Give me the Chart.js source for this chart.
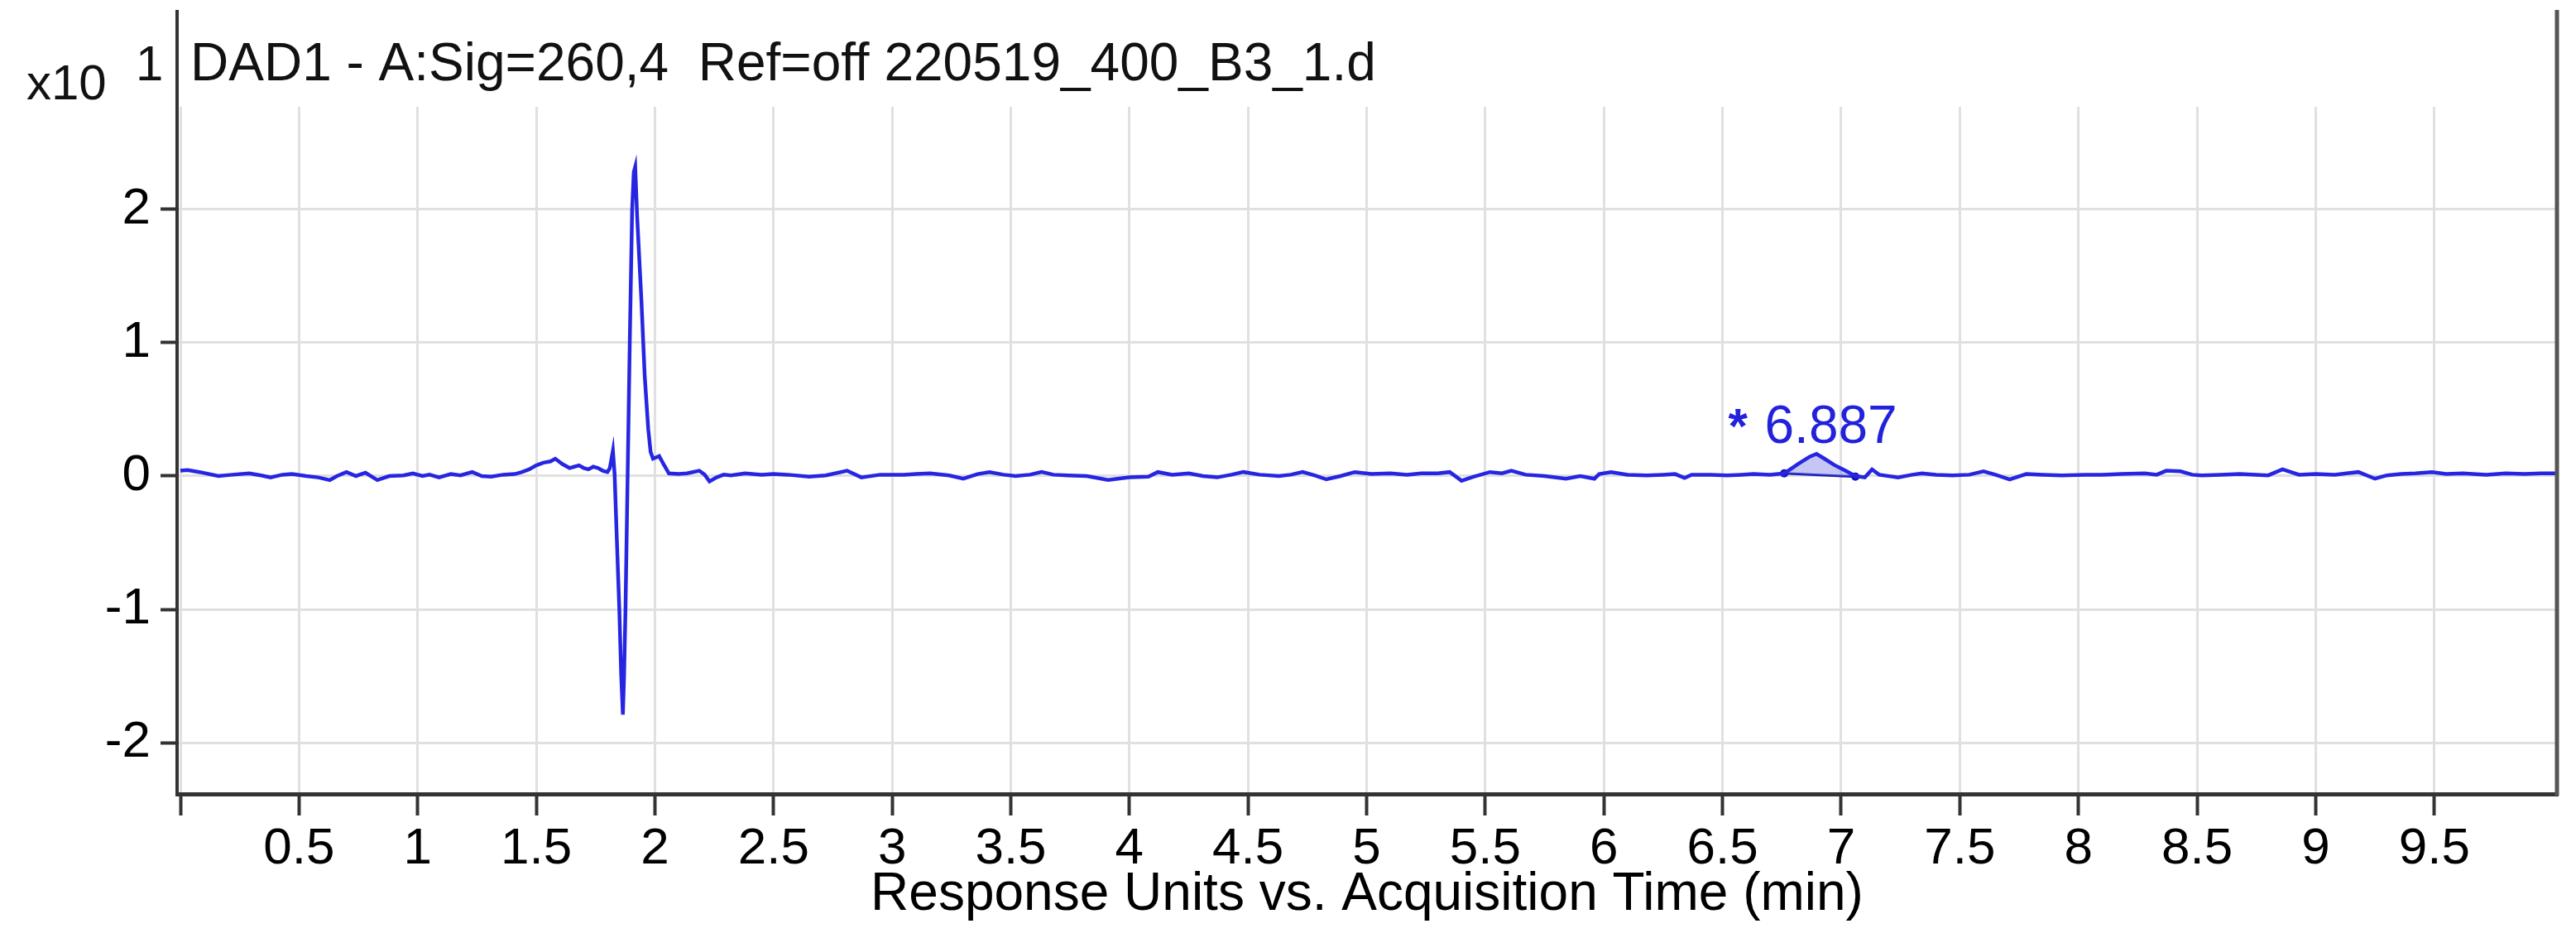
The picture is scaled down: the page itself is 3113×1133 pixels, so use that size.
<!DOCTYPE html>
<html>
<head>
<meta charset="utf-8">
<script src="https://cdn.jsdelivr.net/npm/chart.js@4.4.1/dist/chart.umd.min.js"></script>
<style>
  html, body { margin: 0; padding: 0; background: #fff; overflow: hidden; }
  #wrap { width: 3113px; height: 1133px; position: relative; }
</style>
</head>
<body>
<div id="wrap"><canvas id="chromatogram"></canvas></div>
<script>
// retention time (min) and response (x10^1)
const timeMin = [
  0.00, 0.03, 0.08, 0.16, 0.22, 0.29, 0.34, 0.38, 0.43, 0.47, 0.53, 0.58, 0.63, 0.66, 0.70, 0.74,
  0.78, 0.83, 0.88, 0.94, 0.98, 1.02, 1.05, 1.09, 1.14, 1.18, 1.23, 1.27, 1.31, 1.36, 1.41, 1.44,
  1.47, 1.50, 1.53, 1.56, 1.58, 1.61, 1.64, 1.66, 1.68, 1.70, 1.72, 1.74, 1.76, 1.78, 1.80, 1.81,
  1.823, 1.830, 1.840, 1.850, 1.858, 1.865, 1.870, 1.876, 1.885, 1.894, 1.904, 1.911, 1.917, 1.925,
  1.943, 1.957, 1.972, 1.982, 1.992, 2.005, 2.018, 2.036, 2.059, 2.10, 2.135, 2.187, 2.21, 2.23,
  2.26, 2.29, 2.32, 2.38, 2.45, 2.50, 2.56, 2.65, 2.72, 2.81, 2.87, 2.95, 3.05, 3.10, 3.16, 3.24,
  3.30, 3.36, 3.41, 3.47, 3.52, 3.58, 3.63, 3.68, 3.74, 3.82, 3.91, 4.00, 4.08, 4.12, 4.18, 4.25,
  4.31, 4.37, 4.43, 4.48, 4.55, 4.63, 4.68, 4.73, 4.78, 4.83, 4.89, 4.95, 5.02, 5.10, 5.17, 5.23,
  5.30, 5.35, 5.40, 5.45, 5.52, 5.57, 5.61, 5.67, 5.75, 5.84, 5.90, 5.96, 5.98, 6.03, 6.10, 6.18,
  6.25, 6.30, 6.34, 6.37, 6.45, 6.52, 6.58, 6.63, 6.70, 6.76, 6.82, 6.867, 6.896, 6.925, 6.971, 7.018,
  7.06, 7.10, 7.13, 7.16, 7.24, 7.30, 7.34, 7.40, 7.47, 7.54, 7.60, 7.65, 7.71, 7.78, 7.85, 7.93,
  8.03, 8.10, 8.18, 8.28, 8.33, 8.37, 8.43, 8.48, 8.52, 8.60, 8.68, 8.75, 8.80, 8.86, 8.93, 9.00,
  9.08, 9.13, 9.18, 9.25, 9.30, 9.36, 9.42, 9.49, 9.55, 9.62, 9.72, 9.80, 9.88, 9.95, 10.01
];
const response = [
  0.04, 0.045, 0.03, 0.00, 0.01, 0.02, 0.005, -0.01, 0.01, 0.015, 0.00, -0.01, -0.03, 0.00, 0.03, 0.00,
  0.025, -0.03, 0.00, 0.005, 0.02, 0.00, 0.01, -0.01, 0.015, 0.005, 0.03, 0.00, -0.005, 0.01, 0.015, 0.03,
  0.05, 0.08, 0.10, 0.11, 0.13, 0.09, 0.06, 0.07, 0.08, 0.06, 0.05, 0.07, 0.06, 0.04, 0.03, 0.06,
  0.19, 0.02, -0.5, -1.0, -1.5, -1.79, -1.5, -1.0, 0.0, 1.0, 2.0, 2.28, 2.32, 1.95,
  1.32, 0.75, 0.35, 0.18, 0.13, 0.14, 0.15, 0.09, 0.02, 0.015, 0.02, 0.04, 0.01, -0.04,
  -0.01, 0.01, 0.005, 0.02, 0.01, 0.015, 0.01, -0.005, 0.005, 0.04, -0.01, 0.01, 0.01, 0.015, 0.02, 0.005,
  -0.02, 0.015, 0.03, 0.01, 0.00, 0.01, 0.03, 0.01, 0.005, 0.00, -0.03, -0.01, -0.005, 0.03, 0.01, 0.02,
  0.00, -0.01, 0.01, 0.03, 0.01, 0.00, 0.01, 0.03, 0.005, -0.025, 0.00, 0.03, 0.015, 0.02, 0.01, 0.02,
  0.02, 0.03, -0.035, -0.005, 0.03, 0.02, 0.04, 0.01, 0.00, -0.02, 0.00, -0.02, 0.015, 0.03, 0.01, 0.005,
  0.01, 0.015, -0.015, 0.01, 0.01, 0.005, 0.01, 0.015, 0.01, 0.02, 0.093, 0.145, 0.166, 0.135, 0.083, 0.04,
  0.00, -0.01, 0.05, 0.01, -0.01, 0.01, 0.02, 0.01, 0.005, 0.01, 0.035, 0.01, -0.025, 0.015, 0.01, 0.005,
  0.01, 0.01, 0.015, 0.02, 0.01, 0.04, 0.035, 0.01, 0.005, 0.01, 0.015, 0.01, 0.005, 0.05, 0.01, 0.015,
  0.01, 0.02, 0.03, -0.02, 0.005, 0.015, 0.02, 0.03, 0.015, 0.02, 0.01, 0.02, 0.015, 0.02, 0.02
];

// integrated peak: start/end of the drawn baseline and the labelled apex
const peakBaseTime = [6.76, 7.06];
const peakBaseValue = [0.02, -0.005];
const peakTime = 6.887;
const peakApex = 0.166;
const peakLabel = '6.887';

const xTicks = [0, 0.5, 1, 1.5, 2, 2.5, 3, 3.5, 4, 4.5, 5, 5.5, 6, 6.5, 7, 7.5, 8, 8.5, 9, 9.5];
const xTickLabels = ['', '0.5', '1', '1.5', '2', '2.5', '3', '3.5', '4', '4.5', '5', '5.5', '6', '6.5', '7', '7.5', '8', '8.5', '9', '9.5'];
const yTicks = [-2, -1, 0, 1, 2];
const yTickLabels = ['-2', '-1', '0', '1', '2'];

const titleText = 'DAD1 - A:Sig=260,4  Ref=off 220519_400_B3_1.d';
const xTitle = 'Response Units vs. Acquisition Time (min)';

const FONT = "'Liberation Sans', Arial, Helvetica, sans-serif";
const LINE = '#2626e2';

const trace = timeMin.map((t, i) => ({ x: t, y: response[i] }));
const peakArea = trace.filter(p => p.x >= peakBaseTime[0] && p.x <= peakBaseTime[1]);
const peakBase = peakBaseTime.map((t, i) => ({ x: t, y: peakBaseValue[i] }));

const decorations = {
  id: 'decorations',
  afterDraw(chart) {
    const ctx = chart.ctx;
    const area = chart.chartArea;
    const xs = chart.scales.x;
    const ys = chart.scales.y;
    const frameTop = 12;
    ctx.save();
    // y axis continues up past the title, frame on the right
    ctx.strokeStyle = '#333';
    ctx.lineWidth = 4;
    ctx.beginPath();
    ctx.moveTo(area.left, area.top + 2);
    ctx.lineTo(area.left, frameTop);
    ctx.stroke();
    ctx.strokeStyle = '#555';
    ctx.lineWidth = 5;
    ctx.beginPath();
    ctx.moveTo(area.right, frameTop);
    ctx.lineTo(area.right, area.bottom + 2);
    ctx.stroke();

    ctx.fillStyle = '#111';
    ctx.textBaseline = 'alphabetic';
    ctx.textAlign = 'left';
    ctx.font = '60px ' + FONT;
    ctx.fillText('x10', 32, 120);
    ctx.fillText('1', 164, 97);

    ctx.font = '64px ' + FONT;
    ctx.fillText(titleText, area.left + 16, 97);

    // peak retention time label
    const px = xs.getPixelForValue(peakTime);
    const py = ys.getPixelForValue(peakApex);
    ctx.fillStyle = '#2222dc';
    ctx.font = '64px ' + FONT;
    const w = ctx.measureText(peakLabel).width;
    const starW = 40;
    const left = px - (w + starW) / 2;
    ctx.fillText(peakLabel, left + starW, py - 13);
    ctx.font = 'bold 60px ' + FONT;
    ctx.fillText('*', left - 4, py - 13);
    ctx.restore();
  }
};

new Chart(document.getElementById('chromatogram'), {
  type: 'line',
  data: {
    datasets: [
      {
        data: trace,
        borderColor: LINE,
        borderWidth: 4.5,
        pointRadius: 0,
        tension: 0,
        fill: false
      },
      {
        data: peakArea,
        borderWidth: 0,
        pointRadius: 0,
        backgroundColor: 'rgba(120, 120, 228, 0.42)',
        fill: '+1'
      },
      {
        data: peakBase,
        borderColor: '#1616b8',
        borderWidth: 3,
        pointRadius: 5,
        pointBackgroundColor: '#1616b8',
        pointBorderWidth: 0,
        fill: false
      }
    ]
  },
  options: {
    responsive: true,
    maintainAspectRatio: false,
    animation: false,
    events: [],
    layout: { padding: { top: 129, right: 23, left: 0, bottom: 0 } },
    plugins: {
      legend: { display: false },
      tooltip: { enabled: false },
      title: { display: false }
    },
    scales: {
      x: {
        type: 'linear',
        min: -0.014,
        max: 10.017,
        afterBuildTicks: scale => { scale.ticks = xTicks.map(v => ({ value: v })); },
        afterFit: scale => { scale.height = 174; },
        ticks: {
          autoSkip: false,
          maxRotation: 0,
          padding: 4,
          color: '#000',
          font: { family: FONT, size: 62 },
          callback: v => xTickLabels[xTicks.indexOf(v)]
        },
        grid: { color: '#e0e0e0', lineWidth: 3, tickLength: 26, tickColor: '#333', tickWidth: 4 },
        border: { display: true, color: '#333', width: 5 },
        title: {
          display: true,
          text: xTitle,
          color: '#000',
          font: { family: FONT, size: 64, lineHeight: 1 },
          padding: { top: 0, bottom: 20 }
        }
      },
      y: {
        type: 'linear',
        min: -2.385,
        max: 2.77,
        afterBuildTicks: scale => { scale.ticks = yTicks.map(v => ({ value: v })); },
        afterFit: scale => { scale.width = 214; },
        ticks: {
          padding: 12,
          color: '#000',
          font: { family: FONT, size: 62 },
          callback: v => yTickLabels[yTicks.indexOf(v)]
        },
        grid: { color: '#e0e0e0', lineWidth: 3, tickLength: 20, tickColor: '#333', tickWidth: 4 },
        border: { display: true, color: '#333', width: 4 }
      }
    }
  },
  plugins: [decorations]
});
</script>
</body>
</html>
